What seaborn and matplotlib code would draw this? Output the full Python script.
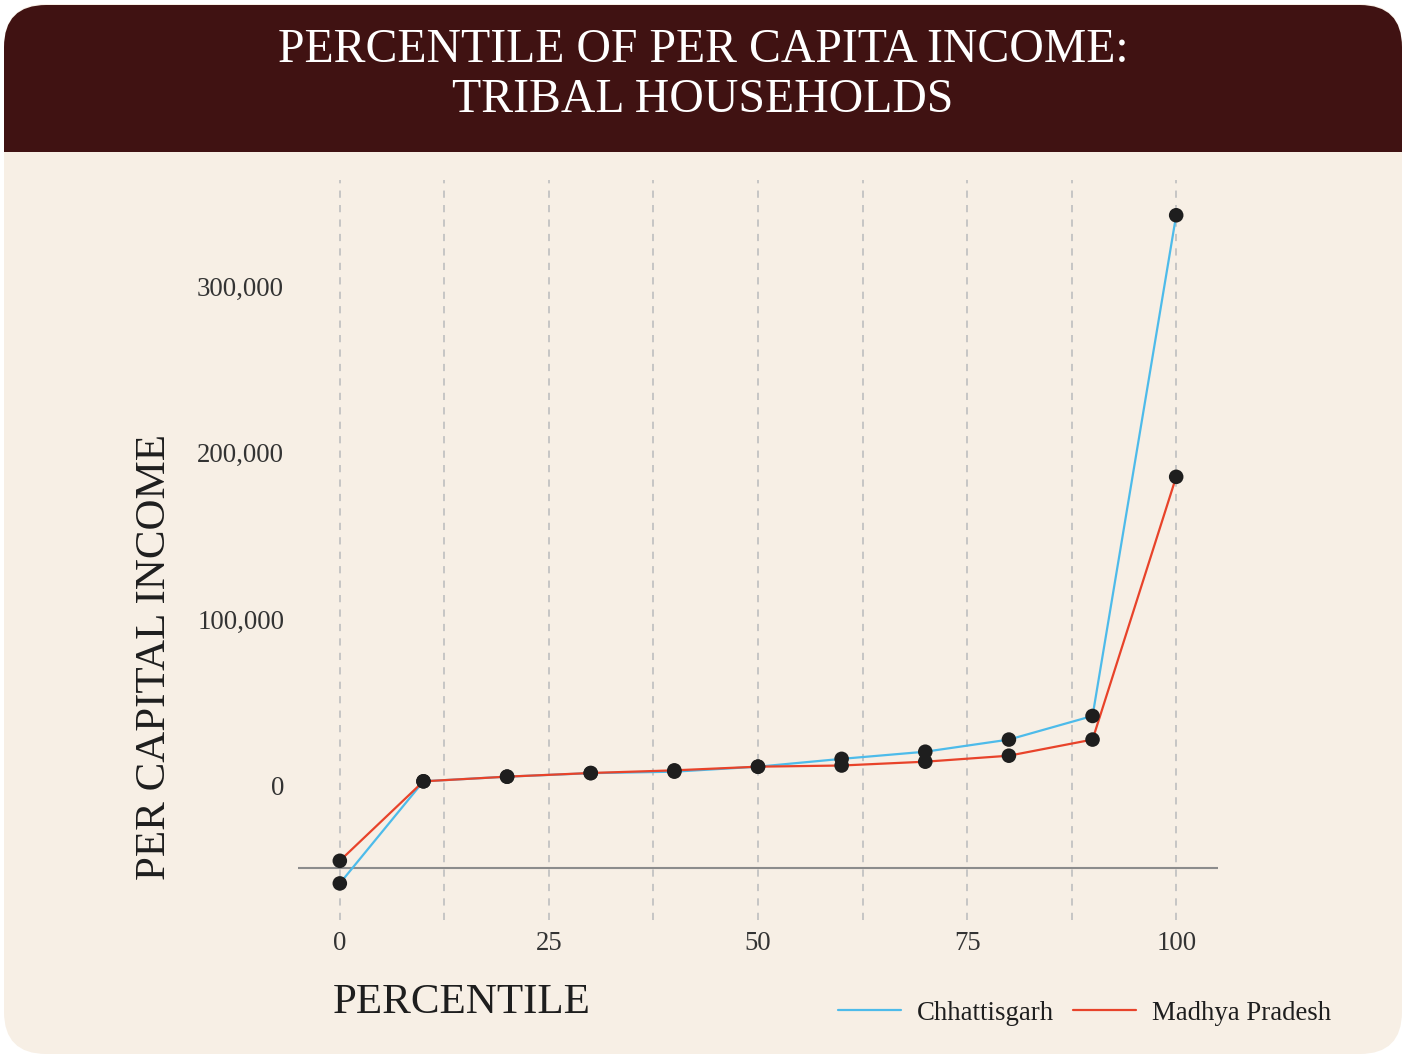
import pandas as pd
import numpy as np
import seaborn as sns
import matplotlib.pyplot as plt
from matplotlib.patches import FancyBboxPatch

# Data
percentiles = [0, 10, 20, 30, 40, 50, 60, 70, 80, 90, 100]
chhattisgarh = [-59000, 2400, 5200, 7300, 8200, 11200, 15900, 20200, 27500, 41700, 342800]
madhya_pradesh = [-45400, 2400, 5200, 7400, 9000, 11200, 11900, 14200, 17800, 27500, 185500]
states = ['Chhattisgarh', 'Madhya Pradesh']
colors = {'Chhattisgarh': '#4dbbea', 'Madhya Pradesh': '#e8432a'}
x_ticks = [0, 25, 50, 75, 100]
y_ticks = [0, 100000, 200000, 300000]

df = pd.DataFrame({
    'percentile': percentiles * 2,
    'income': chhattisgarh + madhya_pradesh,
    'state': [states[0]] * len(percentiles) + [states[1]] * len(percentiles),
})

bg = '#f7efe5'
sns.set_theme(style='white')
plt.rcParams['font.family'] = ['Liberation Serif', 'DejaVu Serif']

fig = plt.figure(figsize=(14.06, 10.58), dpi=100)
fig.patch.set_facecolor('white')

# card background and title band
W, H = 1406, 1058
card = FancyBboxPatch((4 / W, 4 / H), 1398 / W, 1050 / H,
                      boxstyle='round,pad=0,rounding_size=0.03',
                      transform=fig.transFigure, facecolor=bg, edgecolor='none',
                      mutation_aspect=W / H, zorder=-3)
fig.patches.append(card)
band = FancyBboxPatch((4 / W, (H - 152) / H), 1398 / W, 147 / H,
                      boxstyle='round,pad=0,rounding_size=0.03',
                      transform=fig.transFigure, facecolor='#401212', edgecolor='none',
                      mutation_aspect=W / H, zorder=-2)
fig.patches.append(band)
# square off the lower corners of the band
fig.patches.append(plt.Rectangle((4 / W, (H - 152) / H), 1398 / W, 60 / H,
                                 transform=fig.transFigure, facecolor='#401212',
                                 edgecolor='none', zorder=-2))
fig.text(0.5, 1 - 75 / H, 'PERCENTILE OF PER CAPITA INCOME:\nTRIBAL HOUSEHOLDS',
         ha='center', va='center', color='white', fontsize=34.4, linespacing=1.2)

ax = fig.add_axes([298 / W, 1 - 920 / H, 920 / W, 740 / H])
ax.set_facecolor('none')
ax.set_zorder(2)

sns.lineplot(data=df, x='percentile', y='income', hue='state', palette=colors,
             linewidth=1.6, ax=ax, zorder=3)
sns.scatterplot(data=df, x='percentile', y='income', color='#1e1e1e', s=110,
                edgecolor='none', legend=False, ax=ax, zorder=4)

ax.set_xlim(-5, 105)
ax.set_ylim(-81000, 364000)
ax.axhline(-50000, color='#8c8c8c', linewidth=1.5, zorder=2)
for gx in np.arange(0, 101, 12.5):
    ax.axvline(gx, color='#c2c2c2', linewidth=1.3, linestyle=(0, (4, 4)), zorder=1)

ax.set_xticks(x_ticks)
ax.set_xticklabels([str(t) for t in x_ticks])
ax.set_yticks(y_ticks)
ax.set_yticklabels([f'{t:,}' for t in y_ticks])
ax.tick_params(axis='both', length=0, labelsize=19.3, labelcolor='#333333')
ax.tick_params(axis='x', pad=8)
ax.tick_params(axis='y', pad=10)
for s in ax.spines.values():
    s.set_visible(False)

ax.set_xlabel('')
ax.set_ylabel('')
fig.text(333 / W, 1 - 1003 / H, 'PERCENTILE', ha='left', va='center',
         fontsize=31, color='#1e1e1e')
fig.text(155 / W, 1 - 657 / H, 'PER CAPITAL INCOME', ha='center', va='center',
         rotation=90, fontsize=31, color='#1e1e1e')

handles, labels = ax.get_legend_handles_labels()
ax.legend(handles, labels, loc='center right', bbox_to_anchor=(1355 / W, 1 - 1013 / H),
          bbox_transform=fig.transFigure, ncol=2, frameon=False, fontsize=19.3,
          handlelength=2.35, columnspacing=0.7, handletextpad=0.6,
          labelcolor='#1e1e1e')

fig.savefig('out.png', dpi=100, facecolor=fig.get_facecolor())
